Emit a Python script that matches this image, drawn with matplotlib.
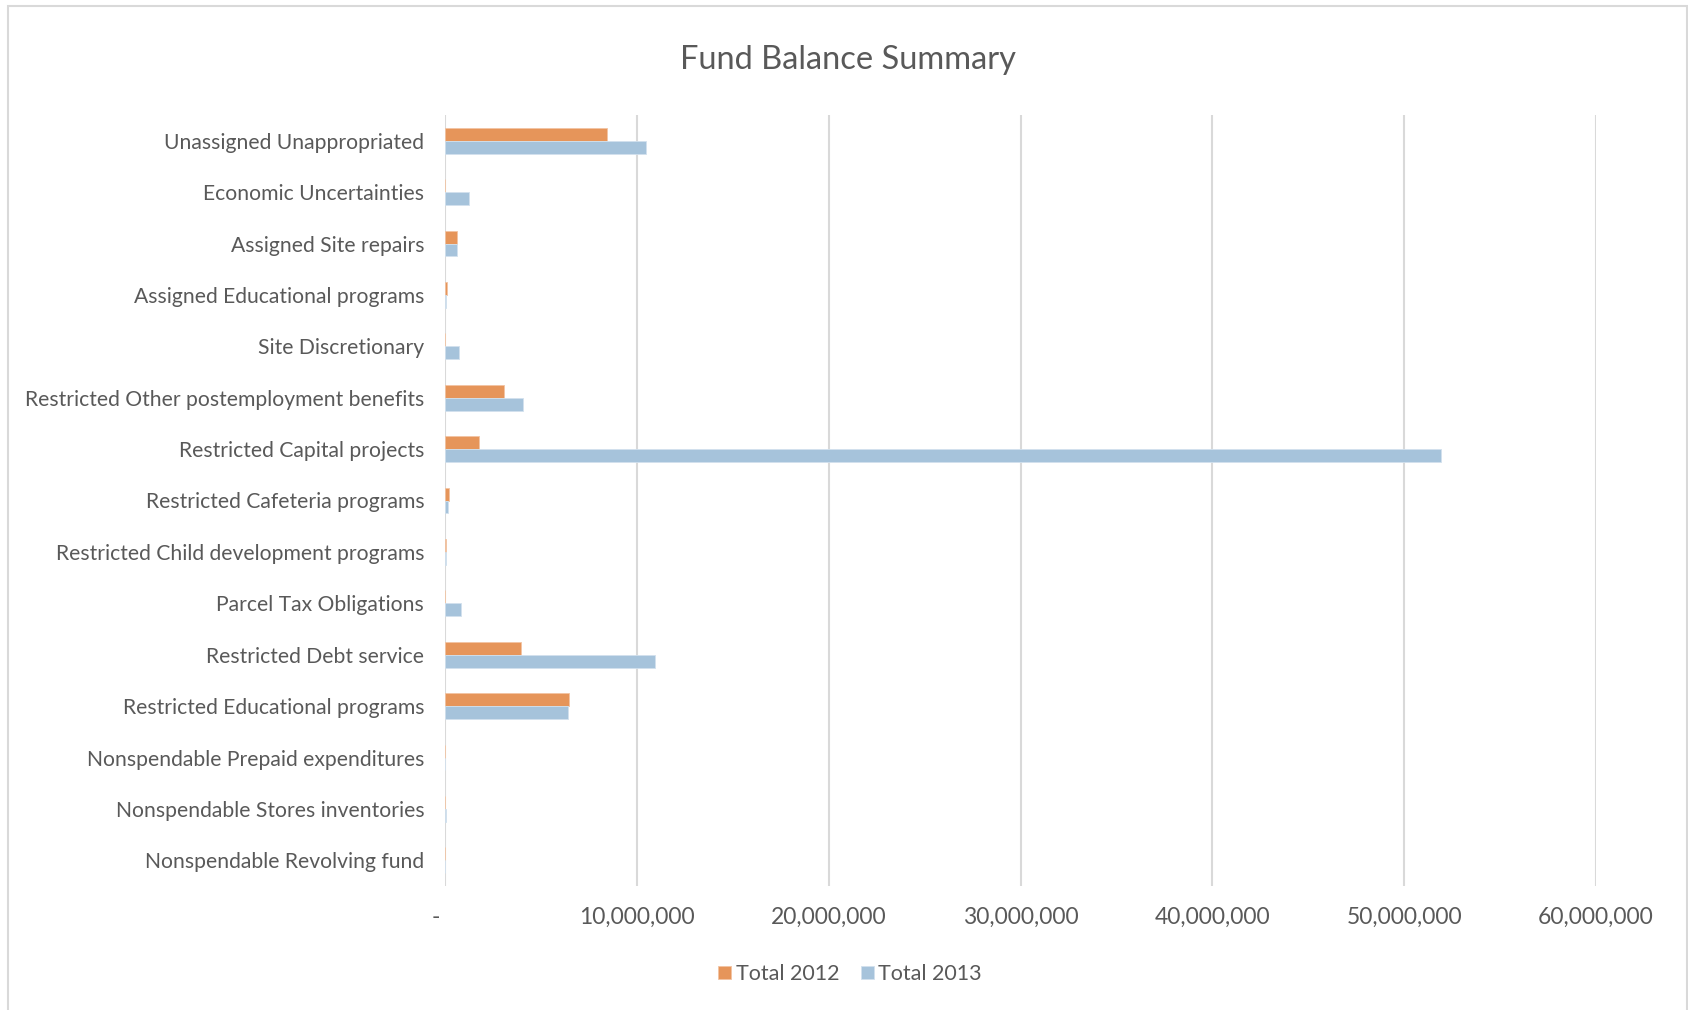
import matplotlib
matplotlib.use("Agg")
import matplotlib.pyplot as plt
import numpy as np
from matplotlib.ticker import FuncFormatter
from matplotlib.patches import Rectangle

categories = [
    "Unassigned Unappropriated",
    "Economic Uncertainties",
    "Assigned Site repairs",
    "Assigned Educational programs",
    "Site Discretionary",
    "Restricted Other postemployment benefits",
    "Restricted Capital projects",
    "Restricted Cafeteria programs",
    "Restricted Child development programs",
    "Parcel Tax Obligations",
    "Restricted Debt service",
    "Restricted Educational programs",
    "Nonspendable Prepaid expenditures",
    "Nonspendable Stores inventories",
    "Nonspendable Revolving fund",
]
total_2012 = [8450000, 0, 640000, 90000, 0, 3060000, 1750000, 210000,
              50000, 0, 3960000, 6460000, 20000, 20000, 20000]
total_2013 = [10470000, 1230000, 640000, 70000, 730000, 4050000, 51900000, 160000,
              30000, 830000, 10970000, 6420000, 20000, 50000, 20000]
series_names = ["Total 2012", "Total 2013"]
x_ticks = [0, 10000000, 20000000, 30000000, 40000000, 50000000, 60000000]

text_color = "#595959"
grid_color = "#D9D9D9"
c2012 = "#E6955A"
c2013 = "#A6C3DB"

plt.rcParams["font.family"] = ["Lato", "DejaVu Sans"]

W, H = 1688, 1010
fig = plt.figure(figsize=(W / 100, H / 100), dpi=100)
fig.patch.set_facecolor("white")

# outer chart border
fig.add_artist(Rectangle((8 / W, -0.01), (1687 - 8) / W, 1 - 6 / H + 0.01,
                         transform=fig.transFigure, fill=False,
                         edgecolor="#D9D9D9", linewidth=1.5))

left, right, top, bottom = 445, 1596, 115, 886
ax = fig.add_axes([left / W, 1 - bottom / H, (right - left) / W, (bottom - top) / H])

y = np.arange(len(categories))
h = 0.25
ax.barh(y - h / 2, total_2012, height=h, color=c2012, edgecolor="#F2C4A3",
        linewidth=0.6, label=series_names[0], zorder=3)
ax.barh(y + h / 2, total_2013, height=h, color=c2013, edgecolor="#D2E1EE",
        linewidth=0.6, label=series_names[1], zorder=3)

ax.set_ylim(len(categories) - 0.5, -0.5)
ax.set_xlim(0, 60000000)
ax.set_yticks(y)
ax.set_yticklabels(categories)
ax.set_xticks(x_ticks)


def fmt(v, pos):
    if v == 0:
        return "-   "
    return f"{int(v):,}"


ax.xaxis.set_major_formatter(FuncFormatter(fmt))
ax.tick_params(axis="both", length=0, colors=text_color)
ax.tick_params(axis="y", pad=15, labelsize=15.2)
ax.tick_params(axis="x", pad=15, labelsize=16.5)
for lbl in ax.get_xticklabels() + ax.get_yticklabels():
    lbl.set_color(text_color)

ax.grid(axis="x", color=grid_color, linewidth=1.5, zorder=0)
ax.grid(axis="y", visible=False)
for s in ax.spines.values():
    s.set_visible(False)
ax.set_axisbelow(True)

fig.text(848 / W, 1 - 60 / H, "Fund Balance Summary",
         ha="center", va="center", fontsize=23.5, color=text_color)

leg = fig.legend(loc="center", bbox_to_anchor=(850 / W, 1 - 974 / H), ncol=2,
                 frameon=False, fontsize=15.5, handlelength=0.6, handleheight=0.6,
                 handletextpad=0.2, columnspacing=1.0)
for t in leg.get_texts():
    t.set_color(text_color)

fig.savefig("out.png", dpi=100, facecolor="white")
